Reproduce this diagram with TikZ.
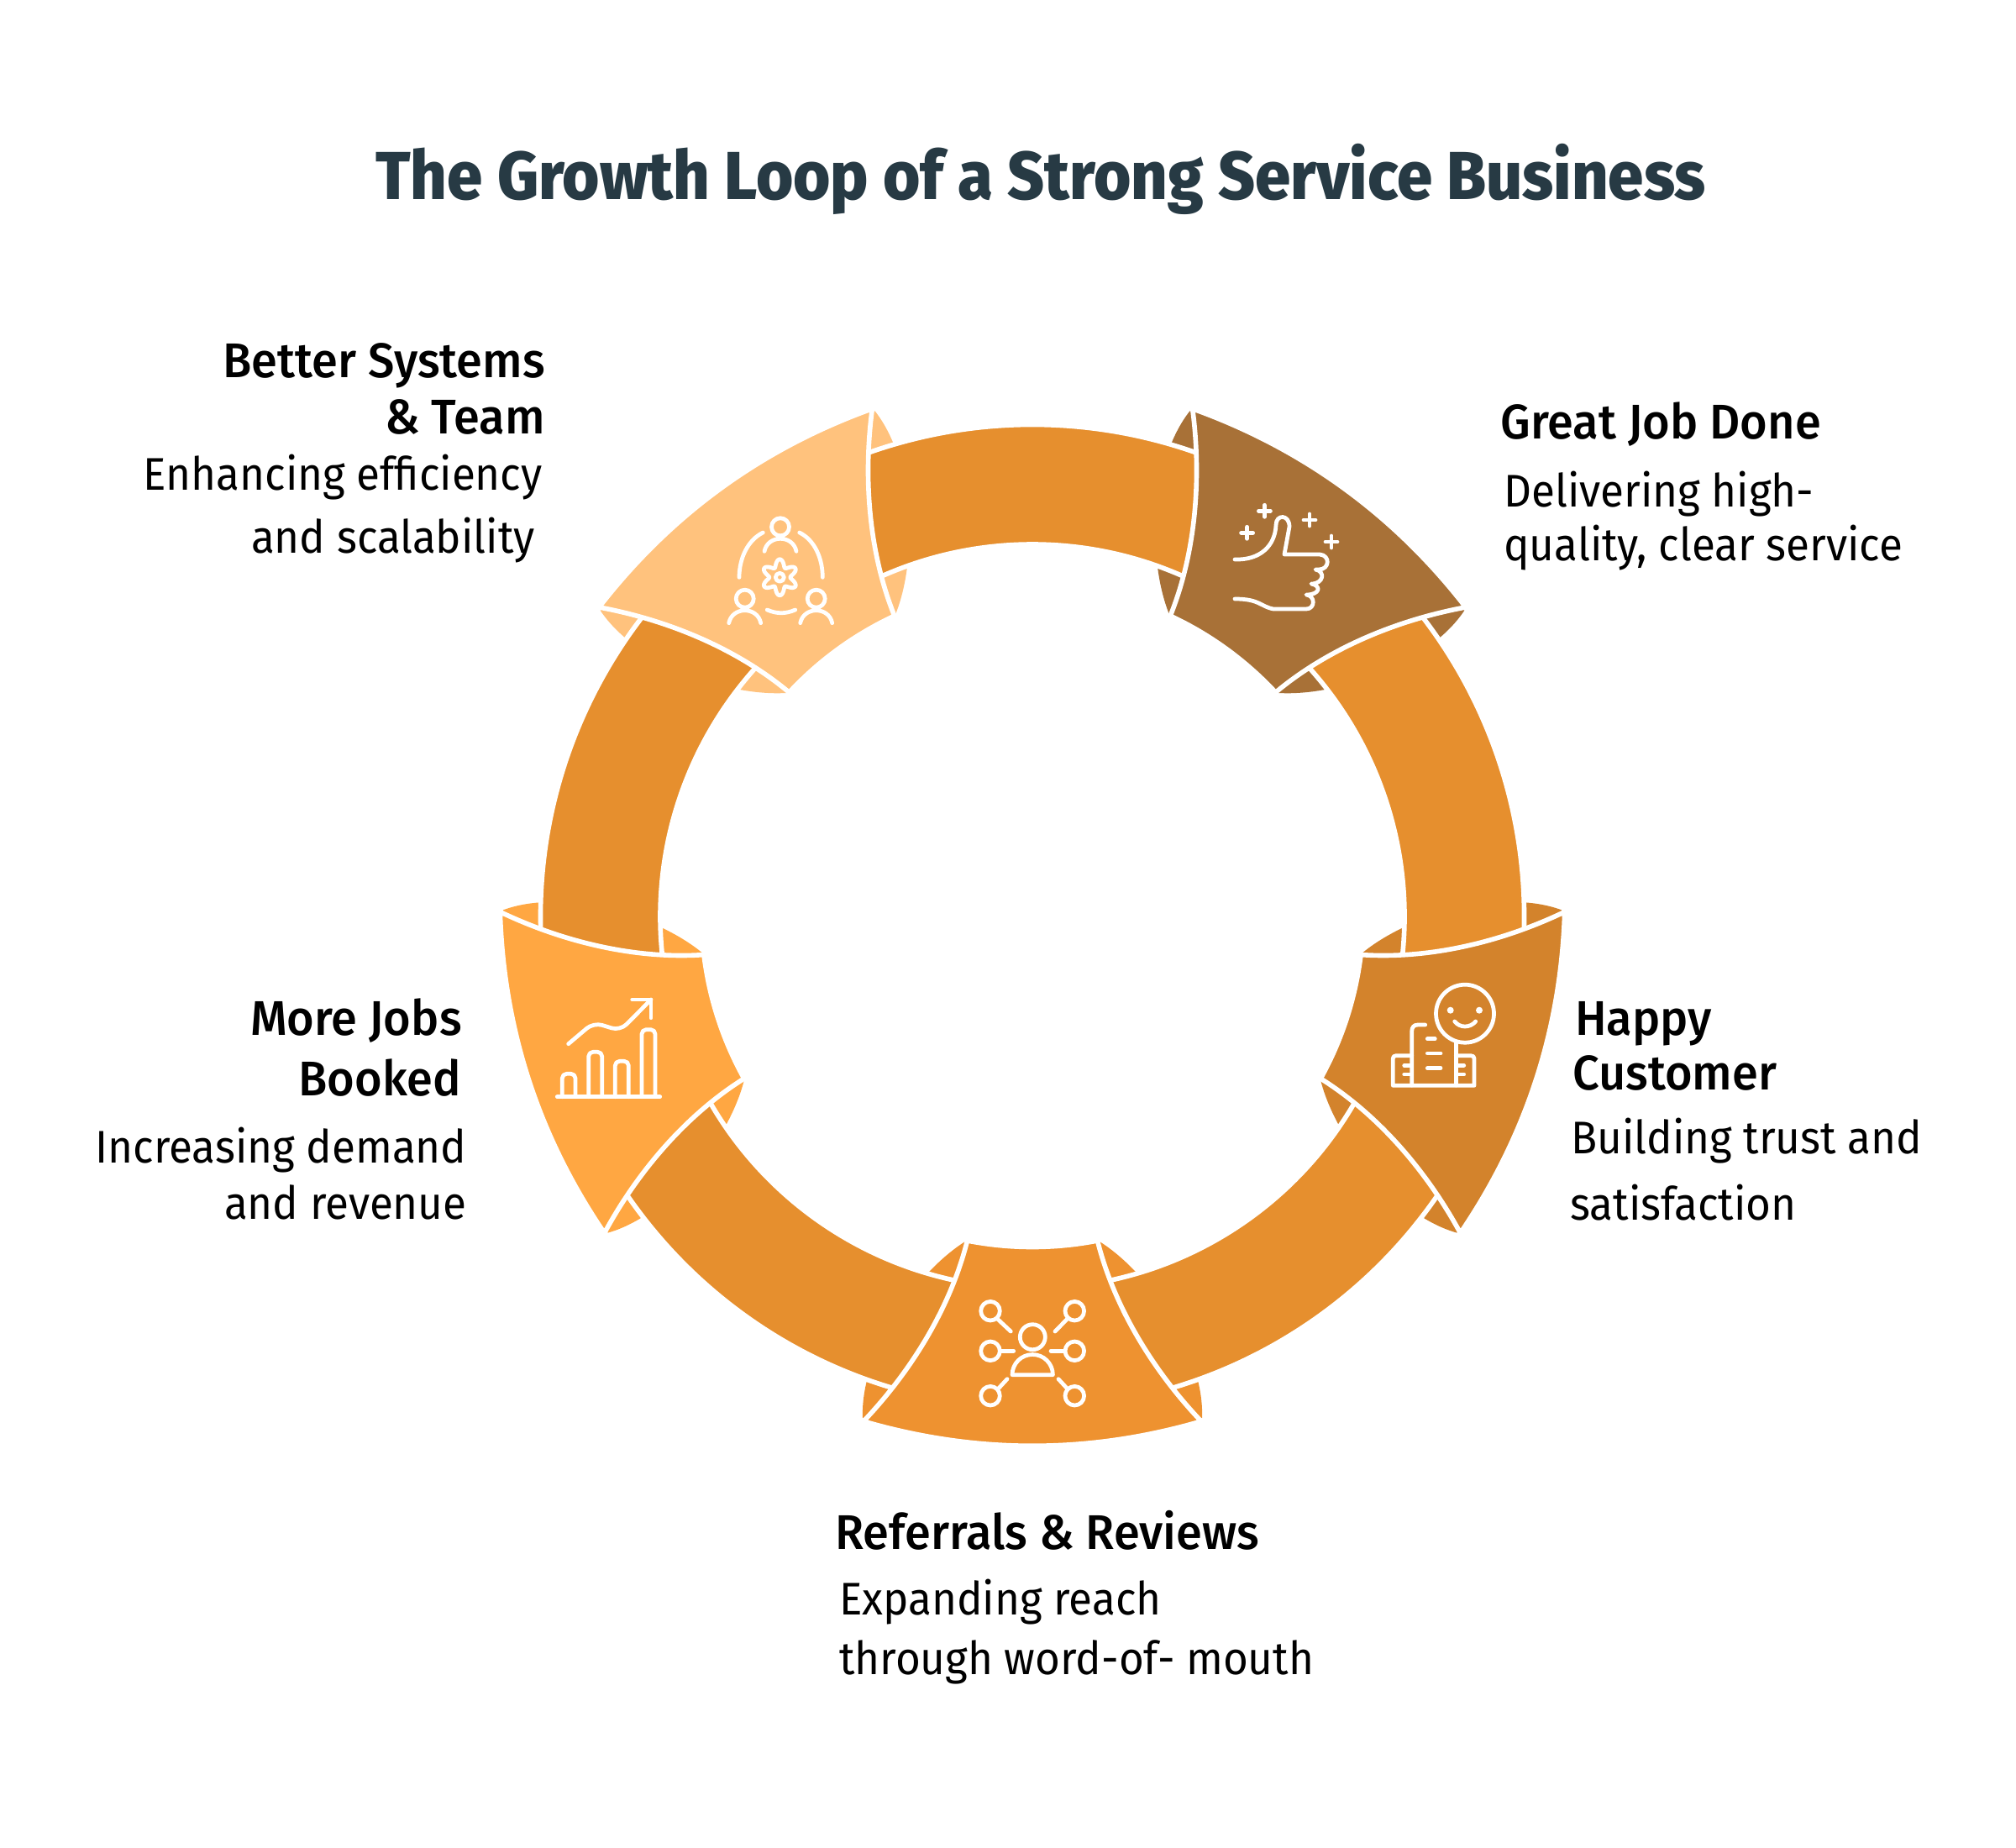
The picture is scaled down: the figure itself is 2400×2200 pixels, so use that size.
\documentclass[tikz,border=0pt]{standalone}
\usepackage{fontspec}
\setmainfont{Fira Sans}[FakeStretch=0.94]
\newfontfamily\headfont{Fira Sans Medium}[FakeStretch=0.965]
\newfontfamily\titlefont{Fira Sans ExtraBold}[FakeStretch=0.94]
\definecolor{bandcol}{HTML}{E68F2E}
\definecolor{jobcol}{HTML}{A87137}
\definecolor{happycol}{HTML}{D3832C}
\definecolor{refercol}{HTML}{EE9230}
\definecolor{bookcol}{HTML}{FFA742}
\definecolor{teamcol}{HTML}{FFC27D}
\definecolor{titlecol}{HTML}{273A44}
\tikzset{%
  ringband/.style={fill=bandcol, draw=white, line width=3.2pt},
  ringblock/.style={draw=white, line width=3.2pt, line join=miter},
  iconline/.style={draw=white, line width=2.7pt, line cap=round, line join=round},
  labelhead/.style={inner sep=0pt, font=\headfont\fontsize{33}{33}\selectfont, text=black},
  labelbody/.style={inner sep=0pt, font=\fontsize{31}{31}\selectfont, text=black},
  labeltitle/.style={inner sep=0pt, font=\titlefont\fontsize{46}{46}\selectfont, text=titlecol},
}

\begin{document}
\begin{tikzpicture}[x=0.02cm, y=-0.02cm]
        \useasboundingbox (0,0) rectangle (2400,2200);

        % flaps behind the bands
        \foreach \rot/\col in {144/jobcol,72/happycol,0/refercol,-72/bookcol,-144/teamcol}
        \fill [\col, shift={(1229,1091)}, rotate=\rot]
          (-202,597) .. controls (-205,520) and (-140,425) .. (-80,387)
          -- (0,420) -- (80,387)
          .. controls (140,425) and (205,520) .. (202,597) -- cycle;

        % bands
        \foreach \rot in {0,72,144,216,288}
        \draw [ringband, shift={(1229,1091)}, rotate=\rot]
          (-118:585.5) arc [start angle=-118, end angle=-62, radius=585.5]
          -- (-62:443) arc [start angle=-62, end angle=-118, radius=443] -- cycle;

        % blocks
        \foreach \rot/\col in {144/jobcol,72/happycol,0/refercol,-72/bookcol,-144/teamcol}
        \draw [ringblock, fill=\col, shift={(1229,1091)}, rotate=\rot]
          (-201,601) .. controls (-67,640) and (67,640) .. (201,601)
          .. controls (143,540) and (97,464) .. (77.5,386)
          .. controls (26,396) and (-26,396) .. (-77.5,386)
          .. controls (-97,464) and (-143,540) .. cycle;

        % thumb icon
        \draw [iconline] (1470,666) .. controls (1500,667) and (1518,650) .. (1519,625)
          .. controls (1519,612) and (1535,612) .. (1535,627) -- (1529,660) -- (1571,660)
          .. controls (1584,661) and (1583,678) .. (1570,678) -- (1566,678)
          .. controls (1578,680) and (1576,695) .. (1561,695)
          .. controls (1573,697) and (1572,708) .. (1555,708)
          .. controls (1566,709) and (1566,725) .. (1555,725) -- (1516,725)
          .. controls (1500,722) and (1500,713) .. (1470,713);
        \foreach \px/\py in {1505.4/608.3,1559/619,1484.6/634.3,1585/645}
        \draw [iconline] (\px-7,\py) -- (\px+7,\py) (\px,\py-7) -- (\px,\py+7);

        % team icon
        \foreach \px/\py in {929/627.3,886.7/712.7,971.7/712.7}
        \draw [iconline] (\px,\py) circle [radius=10.5]
          (\px-19,\py+29) .. controls (\px-15,\py+9) and (\px+15,\py+9) .. (\px+19,\py+29);
        \draw [iconline] (908.3,634) .. controls (890,643) and (880,665) .. (880,687.3);
        \draw [iconline] (951.7,634) .. controls (970,643) and (979.3,665) .. (979.3,687.3);
        \draw [iconline] (913.3,726) .. controls (925,731) and (935,731) .. (946.7,726);
        \draw [iconline] plot [domain=0:360, samples=121, variable=\a]
          ({928.3+(17+4.5*cos(6*\a))*cos(\a+90)}, {687.3+(17+4.5*cos(6*\a))*sin(\a+90)}) -- cycle;
        \draw [iconline] (928.3,687.3) circle [radius=5];

        % smile icon
        \draw [iconline] (1744,1206.7) circle [radius=34.5];
        \fill [white] (1726.7,1202.7) circle [radius=4] (1761,1202.7) circle [radius=4];
        \draw [iconline] (1731.7,1216) .. controls (1738,1224) and (1750,1224) .. (1756.7,1216);
        \draw [iconline] (1696.7,1220) -- (1688,1220) .. controls (1683,1220) and (1680.7,1223) .. (1680.7,1228) -- (1680.7,1292);
        \draw [iconline] (1733.3,1241.7) -- (1733.3,1292);
        \draw [iconline] (1680.7,1256.7) -- (1662,1256.7) .. controls (1659.5,1256.7) and (1658.3,1258) .. (1658.3,1260) -- (1658.3,1292.3) -- (1755,1292.3) -- (1755,1260)
          .. controls (1755,1258) and (1753.5,1256.7) .. (1751,1256.7) -- (1733.3,1256.7);
        \foreach \xa/\xb/\py in {1699.3/1708.3/1236.7,1699.3/1715/1254,1699.3/1715/1271.7,1671.7/1678.3/1268.3,1671.7/1678.3/1279,1736.7/1742.7/1268.3,1736.7/1742.7/1279}
        \draw [iconline] (\xa,\py) -- (\xb,\py);

        % referral icon
        \draw [iconline] (1229.3,1591.7) circle [radius=15];
        \draw [iconline] (1205,1636.7) arc [start angle=180, end angle=360, radius=24.2] -- cycle;
        \foreach \px/\py in {1179/1560.7,1279.3/1560.7,1179/1608.3,1279.3/1608.3,1179/1661.7,1279.3/1661.7}
        \draw [iconline] (\px,\py) circle [radius=11.3];
        \foreach \xa/\ya/\xb/\yb in {1188/1570.7/1203.3/1585,1270/1570.7/1256/1585,1191.7/1608.3/1206.7/1608.3,1251/1608.3/1266.7/1608.3,1199/1641.7/1188.3/1653.3,1260/1641.7/1270.7/1653.3}
        \draw [iconline] (\xa,\ya) -- (\xb,\yb);

        % chart icon
        \draw [iconline] (663.3,1305.7) -- (785.7,1305.7);
        \foreach \xa/\xb/\py in {669.3/685/1278.3,700.7/716.7/1252.3,732.3/748.3/1263.3,764/780/1225.7}
        \draw [iconline, rounded corners=3pt] (\xa,1305.7) -- (\xa,\py) -- (\xb,\py) -- (\xb,1305.7);
        \draw [iconline, rounded corners=6pt] (676.7,1242.7) -- (706.7,1217.3) -- (738.3,1227) -- (775,1190);
        \draw [iconline] (752.7,1190) -- (775,1190) -- (775,1211.7);

        % title
        \node [labeltitle, anchor=base west] (title) at (447,237) {The Growth Loop of a Strong Service Business};

        % labels
        \foreach \nm/\px/\py/\anc/\sty/\txt in {
          team-a/649/449/east/labelhead/Better Systems,
          team-b/649/516/east/labelhead/\& Team,
          team-c/646/583/east/labelbody/Enhancing efficiency,
          team-d/637/658/east/labelbody/and scalability,
          job-a/1786/522/west/labelhead/Great Job Done,
          job-b/1790/603/west/labelbody/Delivering high-,
          job-c/1790/667/west/labelbody/{quality, clear service},
          happy-a/1875/1232/west/labelhead/Happy,
          happy-b/1872/1297/west/labelhead/Customer,
          happy-c/1870/1373/west/labelbody/Building trust and,
          happy-d/1869/1452/west/labelbody/satisfaction,
          refer-a/994/1844/west/labelhead/Referrals \& Reviews,
          refer-b/999/1922/west/labelbody/Expanding reach,
          refer-c/999/1993/west/labelbody/through word-of- mouth,
          book-a/550/1232/east/labelhead/More Jobs,
          book-b/549/1304/east/labelhead/Booked,
          book-c/556/1384/east/labelbody/Increasing demand,
          book-d/556/1451/east/labelbody/and revenue}
        \node [\sty, anchor=base \anc] (\nm) at (\px,\py) {\txt};

\end{tikzpicture}
\end{document}
